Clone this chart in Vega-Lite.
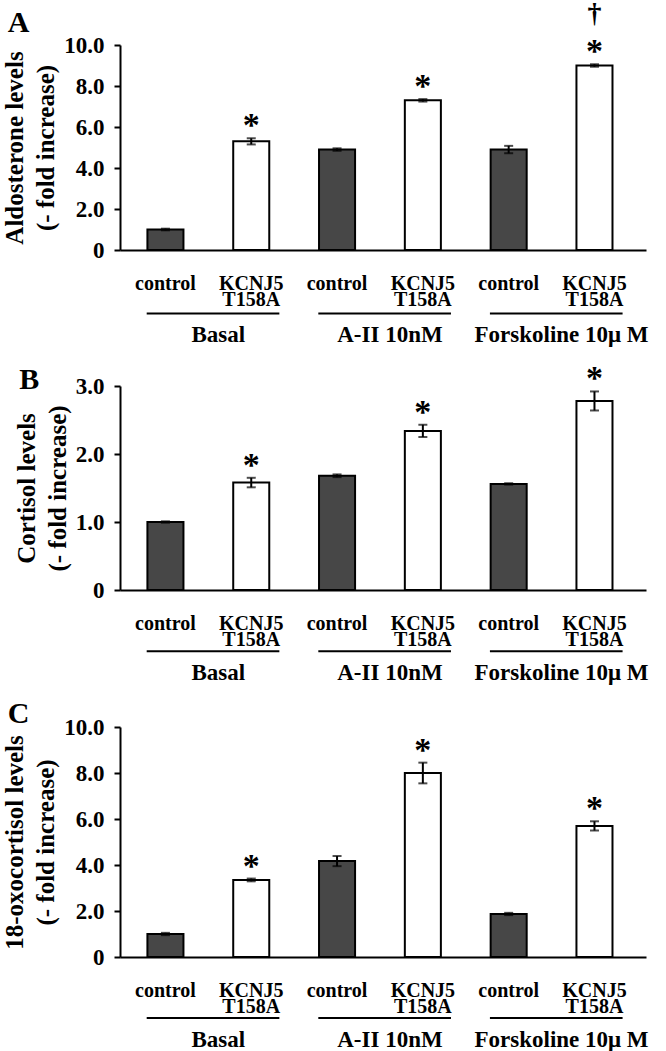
{
  "$schema": "https://vega.github.io/schema/vega-lite/v6.json",
  "background": "white",
  "padding": {"left": 2, "top": 0, "right": 5, "bottom": 0},
  "spacing": 14,
  "config": {
    "view": {"stroke": null},
    "font": "Liberation Serif",
    "axis": {"domainColor": "black", "domainWidth": 2, "tickColor": "black", "tickWidth": 2, "labelFont": "Liberation Serif", "labelFontWeight": "bold", "labelColor": "black", "titleFont": "Liberation Serif", "titleFontWeight": "bold", "titleColor": "black", "grid": false, "labelOverlap": false},
    "axisX": {"title": null, "ticks": false, "labelFontSize": 20, "labelPadding": 23, "labelAngle": 0, "labelLineHeight": 16, "labelExpr": "split(split(datum.label,'|')[0],' ')"},
    "axisY": {"tickSize": 6, "labelFontSize": 23, "labelPadding": 10, "titleFontSize": 25, "titleLineHeight": 31, "titlePadding": 5, "labelExpr": "datum.value == 0 ? '0' : format(datum.value, '.1f')"},
    "title": {"anchor": "start", "frame": "bounds", "fontSize": 30, "font": "Liberation Serif", "fontWeight": "bold", "color": "black", "dx": 5}
  },
  "datasets": {
    "bars": [
      {"panel": "A", "cond": "control|Basal", "geno": "control", "v": 1.0, "e": 0.04},
      {"panel": "A", "cond": "KCNJ5 T158A|Basal", "geno": "KCNJ5 T158A", "v": 5.3, "e": 0.15, "star": "*"},
      {"panel": "A", "cond": "control|A-II", "geno": "control", "v": 4.9, "e": 0.06},
      {"panel": "A", "cond": "KCNJ5 T158A|A-II", "geno": "KCNJ5 T158A", "v": 7.3, "e": 0.06, "star": "*"},
      {"panel": "A", "cond": "control|Forsk", "geno": "control", "v": 4.9, "e": 0.18},
      {"panel": "A", "cond": "KCNJ5 T158A|Forsk", "geno": "KCNJ5 T158A", "v": 9.0, "e": 0.06, "star": "*", "dagger": "†"},
      {"panel": "B", "cond": "control|Basal", "geno": "control", "v": 1.0, "e": 0.01},
      {"panel": "B", "cond": "KCNJ5 T158A|Basal", "geno": "KCNJ5 T158A", "v": 1.58, "e": 0.07, "star": "*"},
      {"panel": "B", "cond": "control|A-II", "geno": "control", "v": 1.68, "e": 0.02},
      {"panel": "B", "cond": "KCNJ5 T158A|A-II", "geno": "KCNJ5 T158A", "v": 2.34, "e": 0.09, "star": "*"},
      {"panel": "B", "cond": "control|Forsk", "geno": "control", "v": 1.56, "e": 0.01},
      {"panel": "B", "cond": "KCNJ5 T158A|Forsk", "geno": "KCNJ5 T158A", "v": 2.78, "e": 0.14, "star": "*"},
      {"panel": "C", "cond": "control|Basal", "geno": "control", "v": 1.0, "e": 0.05},
      {"panel": "C", "cond": "KCNJ5 T158A|Basal", "geno": "KCNJ5 T158A", "v": 3.35, "e": 0.06, "star": "*"},
      {"panel": "C", "cond": "control|A-II", "geno": "control", "v": 4.17, "e": 0.22},
      {"panel": "C", "cond": "KCNJ5 T158A|A-II", "geno": "KCNJ5 T158A", "v": 8.0, "e": 0.45, "star": "*"},
      {"panel": "C", "cond": "control|Forsk", "geno": "control", "v": 1.87, "e": 0.05},
      {"panel": "C", "cond": "KCNJ5 T158A|Forsk", "geno": "KCNJ5 T158A", "v": 5.7, "e": 0.2, "star": "*"}
    ],
    "groups": [
      {"c1": "control|Basal", "c2": "KCNJ5 T158A|Basal", "label": "Basal"},
      {"c1": "control|A-II", "c2": "KCNJ5 T158A|A-II", "label": "A-II 10nM"},
      {"c1": "control|Forsk", "c2": "KCNJ5 T158A|Forsk", "label": "Forskoline 10μ M"}
    ]
  },
  "vconcat": [
    {
      "title": {"text": "A", "offset": -38},
      "width": 526, "height": 205,
      "layer": [
        {
          "data": {"name": "bars"},
          "transform": [{"filter": "datum.panel == 'A'"}],
          "layer": [
            {"mark": {"type": "bar", "stroke": "black", "strokeWidth": 2},
             "encoding": {
               "x": {"field": "cond", "type": "nominal", "sort": null, "scale": {"domain": ["control|Basal", "KCNJ5 T158A|Basal", "control|A-II", "KCNJ5 T158A|A-II", "control|Forsk", "KCNJ5 T158A|Forsk"], "paddingInner": 0.58, "paddingOuter": 0.355, "align": 0.45}},
               "y": {"field": "v", "type": "quantitative", "scale": {"domain": [0, 10]}, "title": ["Aldosterone levels", "(- fold increase)"], "axis": {"values": [0, 2, 4, 6, 8, 10]}},
               "fill": {"field": "geno", "type": "nominal", "scale": {"domain": ["control", "KCNJ5 T158A"], "range": ["#474747", "white"]}, "legend": null}
             }},
            {"mark": {"type": "errorbar", "ticks": {"size": 9, "thickness": 2, "color": "black"}, "rule": {"color": "black", "strokeWidth": 2}},
             "encoding": {"x": {"field": "cond", "type": "nominal"}, "y": {"field": "v", "type": "quantitative", "title": ["Aldosterone levels", "(- fold increase)"]}, "yError": {"field": "e"}}},
            {"transform": [{"filter": "datum.star"}, {"fold": ["v", "e"], "as": ["k", "val"]}],
             "mark": {"type": "text", "fontSize": 34, "fontWeight": "bold", "baseline": "alphabetic", "dy": -2, "color": "black"},
             "encoding": {"x": {"field": "cond", "type": "nominal"}, "y": {"aggregate": "sum", "field": "val", "type": "quantitative", "title": ["Aldosterone levels", "(- fold increase)"]}, "text": {"field": "star"}}},
            {"transform": [{"filter": "datum.dagger"}, {"fold": ["v", "e"], "as": ["k", "val"]}],
             "mark": {"type": "text", "fontSize": 28, "fontWeight": "bold", "baseline": "alphabetic", "dy": -42, "color": "black"},
             "encoding": {"x": {"field": "cond", "type": "nominal"}, "y": {"aggregate": "sum", "field": "val", "type": "quantitative", "title": ["Aldosterone levels", "(- fold increase)"]}, "text": {"field": "dagger"}}}
          ]
        },
        {
          "data": {"name": "groups"},
          "mark": {"type": "rule", "color": "black", "strokeWidth": 2},
          "encoding": {"x": {"field": "c1", "type": "nominal", "bandPosition": -0.02}, "x2": {"field": "c2", "bandPosition": 1.28}, "y": {"datum": -3.1, "type": "quantitative", "title": ["Aldosterone levels", "(- fold increase)"]}}
        },
        {
          "data": {"name": "groups"},
          "mark": {"type": "text", "fontSize": 23, "fontWeight": "bold", "baseline": "middle", "color": "black", "dx": 10},
          "encoding": {"x": {"field": "c1", "type": "nominal", "bandPosition": 1.69}, "y": {"datum": -4.15, "type": "quantitative", "title": ["Aldosterone levels", "(- fold increase)"]}, "text": {"field": "label"}}
        }
      ]
    },
    {
      "title": {"text": "B", "offset": -33},
      "width": 526, "height": 204,
      "layer": [
        {
          "data": {"name": "bars"},
          "transform": [{"filter": "datum.panel == 'B'"}],
          "layer": [
            {"mark": {"type": "bar", "stroke": "black", "strokeWidth": 2},
             "encoding": {
               "x": {"field": "cond", "type": "nominal", "sort": null, "scale": {"domain": ["control|Basal", "KCNJ5 T158A|Basal", "control|A-II", "KCNJ5 T158A|A-II", "control|Forsk", "KCNJ5 T158A|Forsk"], "paddingInner": 0.58, "paddingOuter": 0.355, "align": 0.45}},
               "y": {"field": "v", "type": "quantitative", "scale": {"domain": [0, 3]}, "title": ["Cortisol levels", "(- fold increase)"], "axis": {"values": [0, 0.5, 1, 1.5, 2, 2.5, 3]}},
               "fill": {"field": "geno", "type": "nominal", "scale": {"domain": ["control", "KCNJ5 T158A"], "range": ["#474747", "white"]}, "legend": null}
             }},
            {"mark": {"type": "errorbar", "ticks": {"size": 9, "thickness": 2, "color": "black"}, "rule": {"color": "black", "strokeWidth": 2}},
             "encoding": {"x": {"field": "cond", "type": "nominal"}, "y": {"field": "v", "type": "quantitative", "title": ["Cortisol levels", "(- fold increase)"]}, "yError": {"field": "e"}}},
            {"transform": [{"filter": "datum.star"}, {"fold": ["v", "e"], "as": ["k", "val"]}],
             "mark": {"type": "text", "fontSize": 34, "fontWeight": "bold", "baseline": "alphabetic", "dy": -2, "color": "black"},
             "encoding": {"x": {"field": "cond", "type": "nominal"}, "y": {"aggregate": "sum", "field": "val", "type": "quantitative", "title": ["Cortisol levels", "(- fold increase)"]}, "text": {"field": "star"}}}
          ]
        },
        {
          "data": {"name": "groups"},
          "mark": {"type": "rule", "color": "black", "strokeWidth": 2},
          "encoding": {"x": {"field": "c1", "type": "nominal", "bandPosition": -0.02}, "x2": {"field": "c2", "bandPosition": 1.28}, "y": {"datum": -0.9, "type": "quantitative", "title": ["Cortisol levels", "(- fold increase)"]}}
        },
        {
          "data": {"name": "groups"},
          "mark": {"type": "text", "fontSize": 23, "fontWeight": "bold", "baseline": "middle", "color": "black", "dx": 10},
          "encoding": {"x": {"field": "c1", "type": "nominal", "bandPosition": 1.69}, "y": {"datum": -1.22, "type": "quantitative", "title": ["Cortisol levels", "(- fold increase)"]}, "text": {"field": "label"}}
        }
      ]
    },
    {
      "title": {"text": "C", "offset": -13},
      "width": 526, "height": 230,
      "layer": [
        {
          "data": {"name": "bars"},
          "transform": [{"filter": "datum.panel == 'C'"}],
          "layer": [
            {"mark": {"type": "bar", "stroke": "black", "strokeWidth": 2},
             "encoding": {
               "x": {"field": "cond", "type": "nominal", "sort": null, "scale": {"domain": ["control|Basal", "KCNJ5 T158A|Basal", "control|A-II", "KCNJ5 T158A|A-II", "control|Forsk", "KCNJ5 T158A|Forsk"], "paddingInner": 0.58, "paddingOuter": 0.355, "align": 0.45}},
               "y": {"field": "v", "type": "quantitative", "scale": {"domain": [0, 10]}, "title": ["18-oxocortisol levels", "(- fold increase)"], "axis": {"values": [0, 2, 4, 6, 8, 10]}},
               "fill": {"field": "geno", "type": "nominal", "scale": {"domain": ["control", "KCNJ5 T158A"], "range": ["#474747", "white"]}, "legend": null}
             }},
            {"mark": {"type": "errorbar", "ticks": {"size": 9, "thickness": 2, "color": "black"}, "rule": {"color": "black", "strokeWidth": 2}},
             "encoding": {"x": {"field": "cond", "type": "nominal"}, "y": {"field": "v", "type": "quantitative", "title": ["18-oxocortisol levels", "(- fold increase)"]}, "yError": {"field": "e"}}},
            {"transform": [{"filter": "datum.star"}, {"fold": ["v", "e"], "as": ["k", "val"]}],
             "mark": {"type": "text", "fontSize": 34, "fontWeight": "bold", "baseline": "alphabetic", "dy": -2, "color": "black"},
             "encoding": {"x": {"field": "cond", "type": "nominal"}, "y": {"aggregate": "sum", "field": "val", "type": "quantitative", "title": ["18-oxocortisol levels", "(- fold increase)"]}, "text": {"field": "star"}}}
          ]
        },
        {
          "data": {"name": "groups"},
          "mark": {"type": "rule", "color": "black", "strokeWidth": 2},
          "encoding": {"x": {"field": "c1", "type": "nominal", "bandPosition": -0.02}, "x2": {"field": "c2", "bandPosition": 1.28}, "y": {"datum": -2.65, "type": "quantitative", "title": ["18-oxocortisol levels", "(- fold increase)"]}}
        },
        {
          "data": {"name": "groups"},
          "mark": {"type": "text", "fontSize": 23, "fontWeight": "bold", "baseline": "middle", "color": "black", "dx": 10},
          "encoding": {"x": {"field": "c1", "type": "nominal", "bandPosition": 1.69}, "y": {"datum": -3.6, "type": "quantitative", "title": ["18-oxocortisol levels", "(- fold increase)"]}, "text": {"field": "label"}}
        }
      ]
    }
  ]
}
